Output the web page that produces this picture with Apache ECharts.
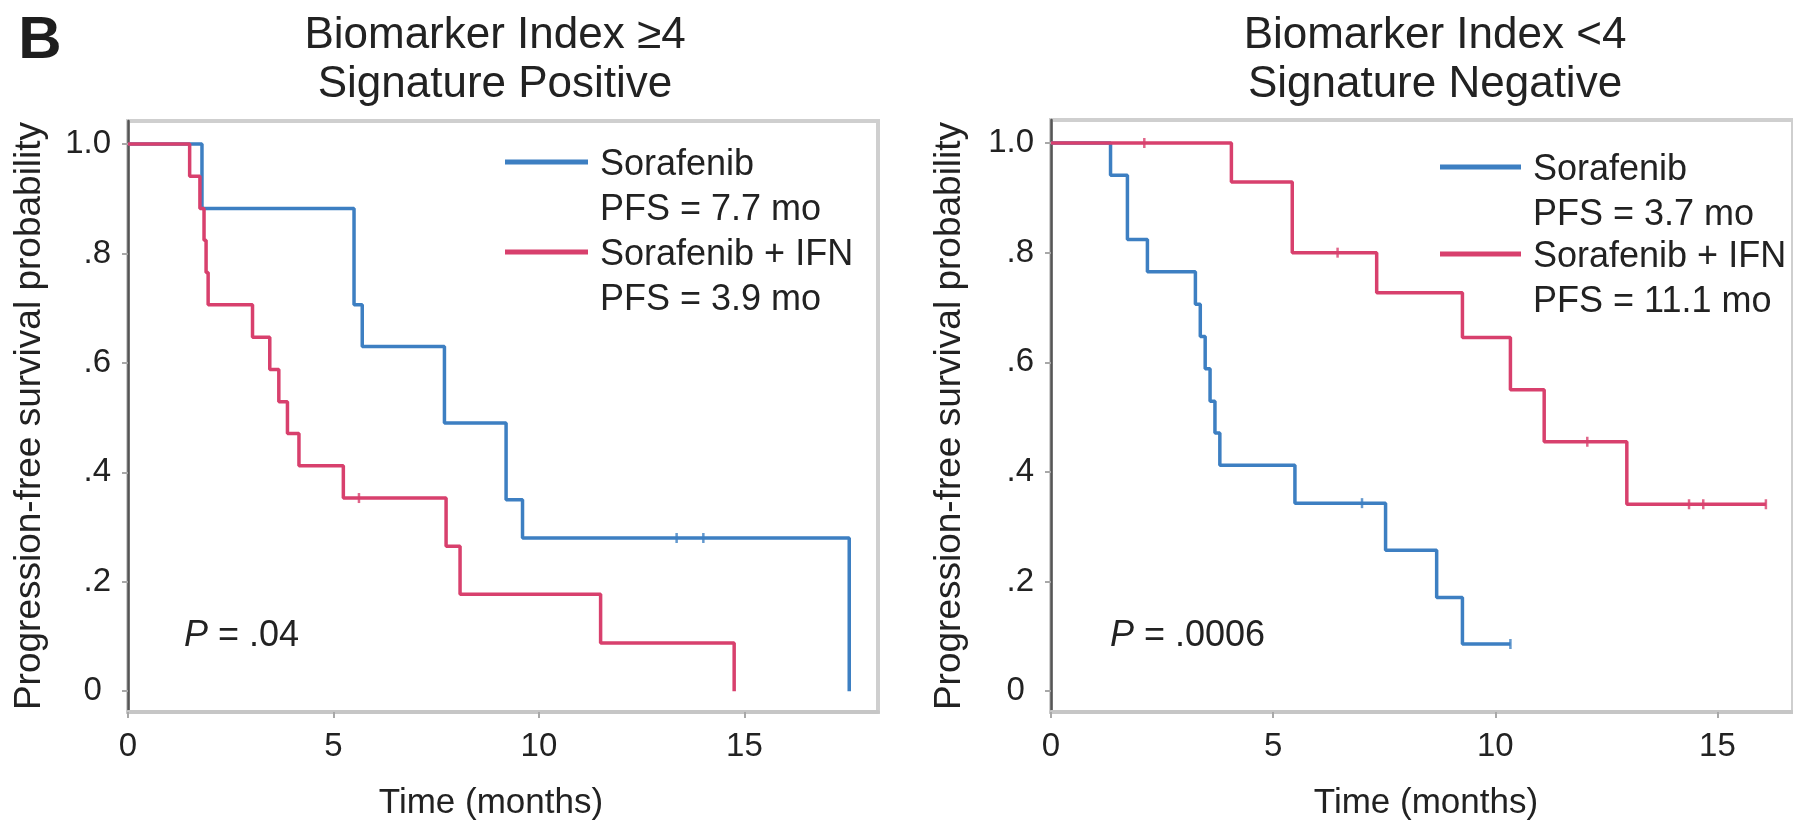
<!DOCTYPE html>
<html><head><meta charset="utf-8">
<script src="https://cdn.jsdelivr.net/npm/echarts@6/dist/echarts.min.js"></script>
<style>html,body{margin:0;padding:0;background:#fff}#c{width:1793px;height:828px}</style>
</head><body><div id="c"></div>
<script>
// ---------- data ----------
const panelLetter = 'B';
const panelTitles = [['Biomarker Index ≥4', 'Signature Positive'], ['Biomarker Index <4', 'Signature Negative']];
const seriesNames = ['Sorafenib', 'Sorafenib + IFN'];
const pfsLabels = [['PFS = 7.7 mo', 'PFS = 3.9 mo'], ['PFS = 3.7 mo', 'PFS = 11.1 mo']];
const pValues = ['.04', '.0006'];
const xAxisName = 'Time (months)';
const yAxisName = 'Progression-free survival probability';
const xTicks = [0, 5, 10, 15];
const yTicks = [0, 0.2, 0.4, 0.6, 0.8, 1.0];
const yTickLabels = ['0 ', '.2', '.4', '.6', '.8', '1.0'];

// Left panel: Biomarker Index >=4, signature positive
const posSorTime = [0, 1.8, 5.5, 5.7, 7.7, 9.2, 9.6, 17.55];
const posSorSurv = [1, 0.882, 0.706, 0.63, 0.49, 0.35, 0.28, 0];
const posSorCensor = [13.35, 14.0];
const posIfnTime = [0, 1.5, 1.75, 1.85, 1.9, 1.95, 3.03, 3.45, 3.67, 3.88, 4.16, 5.24, 7.74, 8.08, 11.5, 14.75];
const posIfnSurv = [1, 0.941, 0.882, 0.824, 0.765, 0.706, 0.647, 0.588, 0.529, 0.471, 0.412, 0.353, 0.265, 0.177, 0.088, 0];
const posIfnCensor = [5.62];

// Right panel: Biomarker Index <4, signature negative
const negSorTime = [0, 1.34, 1.72, 2.17, 3.25, 3.36, 3.47, 3.58, 3.69, 3.8, 5.49, 7.53, 8.68, 9.26, 10.34];
const negSorSurv = [1, 0.941, 0.824, 0.765, 0.706, 0.647, 0.588, 0.529, 0.471, 0.412, 0.343, 0.257, 0.171, 0.086, 0.086];
const negSorCensor = [7.0, 10.34];
const negIfnTime = [0, 4.06, 5.43, 7.33, 9.26, 10.34, 11.1, 12.96, 16.09];
const negIfnSurv = [1, 0.929, 0.8, 0.727, 0.645, 0.55, 0.455, 0.341, 0.341];
const negIfnCensor = [2.1, 6.45, 12.07, 14.36, 14.68, 16.09];

// ---------- style ----------
const FONT = 'Liberation Sans';
const TEXT = '#222';
const BLUE = '#3d7fc2';
const PINK = '#d8406d';
const colors = [BLUE, PINK];

function stepAt(times, surv, t) {
  let v = surv[0];
  for (let i = 0; i < times.length; i++) { if (times[i] <= t) v = surv[i]; }
  return v;
}
function kmLine(name, times, surv, color, g) {
  return {
    name, type: 'line', step: 'end', symbol: 'none', xAxisIndex: g, yAxisIndex: g,
    data: times.map((t, i) => [t, surv[i]]),
    lineStyle: { color, width: 3.5 }, silent: true, animation: false
  };
}
function kmCensor(name, times, surv, cens, color, g) {
  return {
    name: name + ' censored', type: 'scatter', xAxisIndex: g, yAxisIndex: g,
    symbol: 'rect', symbolSize: [2.5, 10],
    itemStyle: { color }, silent: true, animation: false,
    data: cens.map(t => [t, stepAt(times, surv, t)])
  };
}

function xAxisCfg(g, max) {
  return {
    gridIndex: g, type: 'value', min: 0, max,
    axisLine: { show: true, onZero: false, lineStyle: { color: '#c6c6c6', width: 4 } },
    axisTick: { show: true, length: 6, customValues: xTicks, lineStyle: { color: '#a8a8a8', width: 2 } },
    axisLabel: { customValues: xTicks, margin: 18, fontSize: 33, fontFamily: FONT, color: TEXT },
    splitLine: { show: false }
  };
}
function yAxisCfg(g) {
  return {
    gridIndex: g, type: 'value', min: -0.038, max: 1.042,
    axisLine: { show: true, onZero: false, lineStyle: { color: '#555', width: 2.5 } },
    axisTick: { show: true, length: 6, customValues: yTicks, lineStyle: { color: '#a8a8a8', width: 2 } },
    axisLabel: {
      customValues: yTicks, margin: 17, fontSize: 33, fontFamily: FONT, color: TEXT,
      formatter: v => { const i = yTicks.findIndex(t => Math.abs(t - v) < 1e-9); return i >= 0 ? yTickLabels[i] : ''; }
    },
    splitLine: { show: false }
  };
}

function txt(text, x, y, size, opts) {
  return Object.assign({
    type: 'text', x, y, silent: true,
    style: Object.assign({ text, fontSize: size, fontFamily: FONT, fill: TEXT, align: 'center', verticalAlign: 'middle' }, (opts && opts.style) || {})
  }, (opts && opts.el) || {});
}

const layout = [
  { titleX: 495, yNameX: 30, xNameX: 491, pX: 184, lineX: [505, 588], textX: 600, rows: [165, 210, 255, 300] },
  { titleX: 1435, yNameX: 950, xNameX: 1426, pX: 1110, lineX: [1440, 1521], textX: 1533, rows: [170, 215, 257, 302] }
];

const graphic = [];
graphic.push(txt(panelLetter, 40, 41, 60, { style: { fontWeight: 'bold', fill: '#1e1e1e' } }));
layout.forEach((L, p) => {
  graphic.push(txt(panelTitles[p][0], L.titleX, 36, 44));
  graphic.push(txt(panelTitles[p][1], L.titleX, 85, 44));
  graphic.push(txt(yAxisName, L.yNameX, 416, 37, { el: { rotation: Math.PI / 2 } }));
  graphic.push(txt(xAxisName, L.xNameX, 803, 35));
  graphic.push({
    type: 'text', x: L.pX, y: 636, silent: true,
    style: { text: '{i|P} = ' + pValues[p], fontSize: 36, fontFamily: FONT, fill: TEXT, align: 'left', verticalAlign: 'middle',
      rich: { i: { fontStyle: 'italic', fontSize: 36, fontFamily: FONT, fill: TEXT } } }
  });
  seriesNames.forEach((nm, s) => {
    const ry = L.rows[s * 2];
    graphic.push({ type: 'line', silent: true, shape: { x1: L.lineX[0], y1: ry - 3, x2: L.lineX[1], y2: ry - 3 }, style: { stroke: colors[s], lineWidth: 5 } });
    graphic.push(txt(nm, L.textX, ry, 36, { style: { align: 'left' } }));
    graphic.push(txt(pfsLabels[p][s], L.textX, L.rows[s * 2 + 1], 36, { style: { align: 'left' } }));
  });
});

const option = {
  backgroundColor: '#fff',
  animation: false,
  grid: [
    { left: 128, top: 121, width: 750, height: 591, show: true, borderColor: '#cfcfcf', borderWidth: 4, backgroundColor: 'transparent' },
    { left: 1051, top: 120, width: 745, height: 592, show: true, borderColor: '#cfcfcf', borderWidth: 4, backgroundColor: 'transparent' }
  ],
  xAxis: [xAxisCfg(0, 18.25), xAxisCfg(1, 16.7)],
  yAxis: [yAxisCfg(0), yAxisCfg(1)],
  series: [
    kmLine(seriesNames[0], posSorTime, posSorSurv, BLUE, 0),
    kmCensor(seriesNames[0], posSorTime, posSorSurv, posSorCensor, BLUE, 0),
    kmLine(seriesNames[1], posIfnTime, posIfnSurv, PINK, 0),
    kmCensor(seriesNames[1], posIfnTime, posIfnSurv, posIfnCensor, PINK, 0),
    kmLine(seriesNames[0], negSorTime, negSorSurv, BLUE, 1),
    kmCensor(seriesNames[0], negSorTime, negSorSurv, negSorCensor, BLUE, 1),
    kmLine(seriesNames[1], negIfnTime, negIfnSurv, PINK, 1),
    kmCensor(seriesNames[1], negIfnTime, negIfnSurv, negIfnCensor, PINK, 1)
  ],
  graphic
};
const chart = echarts.init(document.getElementById('c'), null, { renderer: 'canvas' });
chart.setOption(option);
</script>
</body></html>
